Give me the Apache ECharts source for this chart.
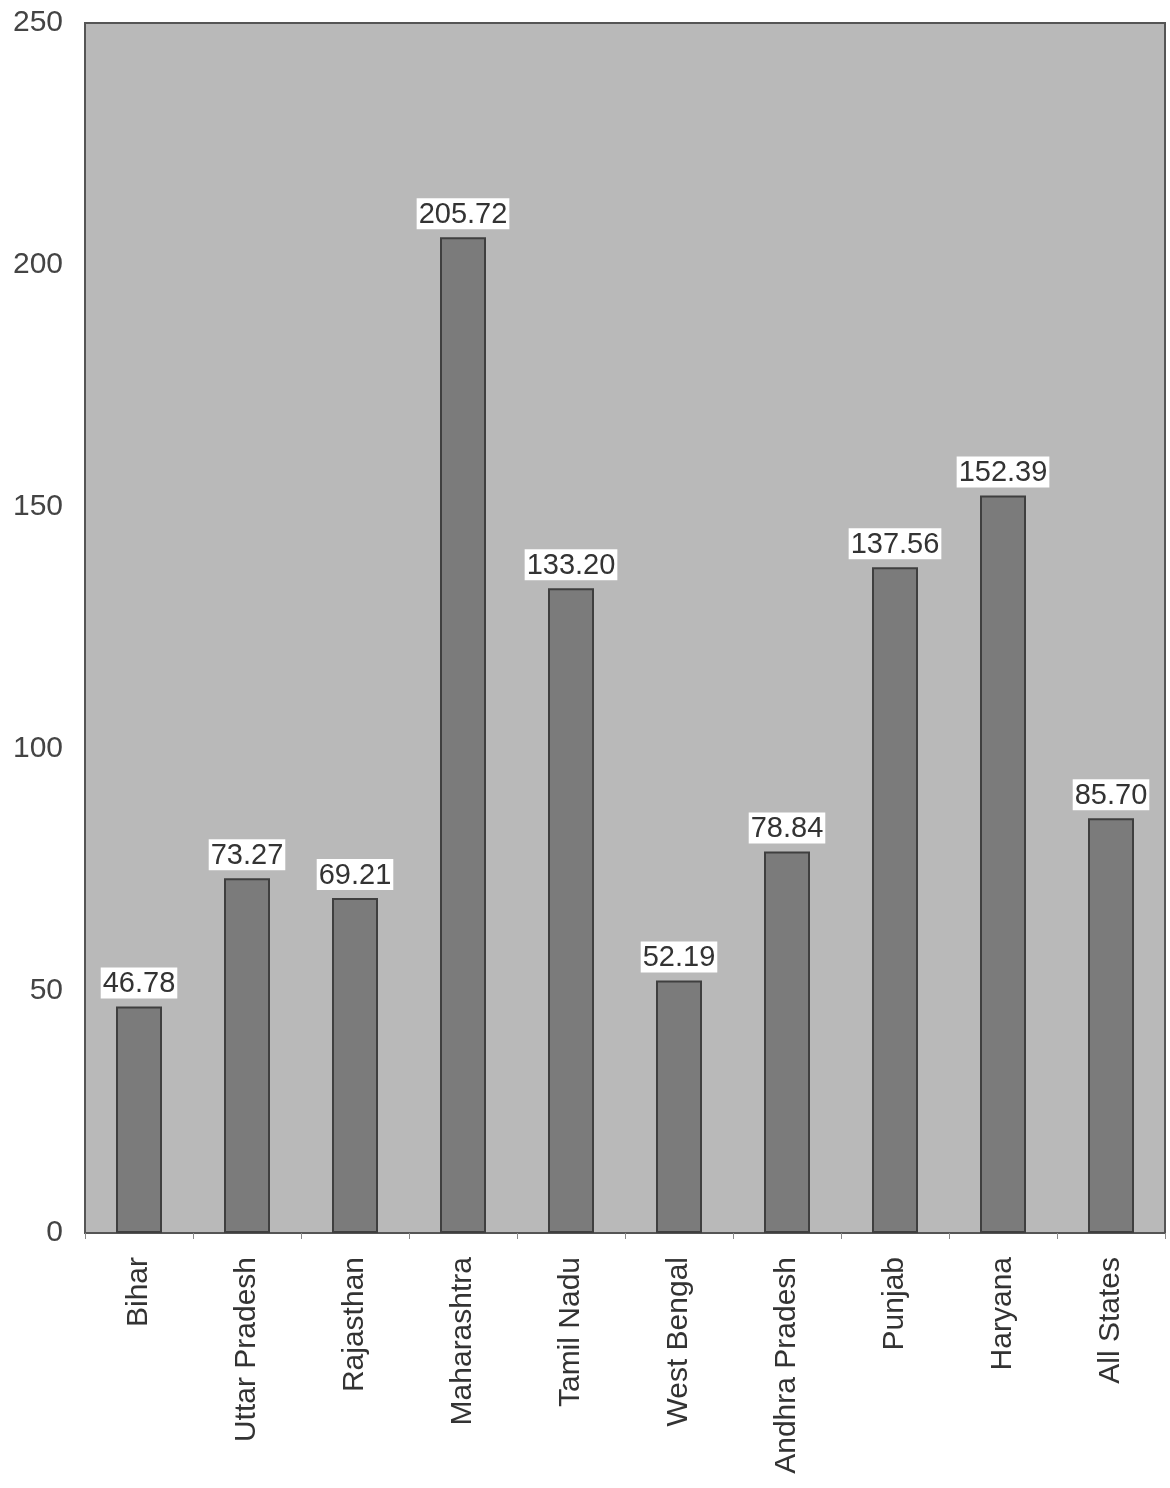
<!DOCTYPE html>
<html><head><meta charset="utf-8">
<script src="https://cdn.jsdelivr.net/npm/echarts@6/dist/echarts.min.js"></script>
<style>html,body{margin:0;padding:0;background:#fff}#c{width:1170px;height:1488px}</style>
</head><body><div id="c"></div>
<script>
const categories = ["Bihar","Uttar Pradesh","Rajasthan","Maharashtra","Tamil Nadu","West Bengal","Andhra Pradesh","Punjab","Haryana","All States"];
const values = [46.78,73.27,69.21,205.72,133.20,52.19,78.84,137.56,152.39,85.70];
const yTicks = {min:0,max:250,interval:50};
const chart = echarts.init(document.getElementById('c'));
chart.setOption({
  animation:false,
  backgroundColor:'#ffffff',
  grid:{left:85,right:5,top:23,height:1210,show:true,backgroundColor:'#b9b9b9',borderColor:'#555',borderWidth:2},
  xAxis:{type:'category',data:categories,
    axisLine:{lineStyle:{color:'#555',width:2}},
    axisTick:{show:true,length:6,lineStyle:{color:'#888'}},
    axisLabel:{rotate:90,margin:24,fontSize:30,color:'#333',fontFamily:'Liberation Sans'}},
  yAxis:{type:'value',min:yTicks.min,max:yTicks.max,interval:yTicks.interval,
    axisLine:{show:false},axisTick:{show:false},splitLine:{show:false},
    axisLabel:{fontSize:30,color:'#444',margin:22,fontFamily:'Liberation Sans'}},
  series:[{type:'bar',data:values,barWidth:46,
    itemStyle:{color:'#7b7b7b',borderColor:'#3f3f3f',borderWidth:2},
    label:{show:true,position:'top',distance:8,fontSize:29,color:'#333',fontFamily:'Liberation Sans',
      backgroundColor:'#ffffff',padding:[2,2,0,2],
      formatter:p=>p.value.toFixed(2)}}]
});
</script></body></html>
